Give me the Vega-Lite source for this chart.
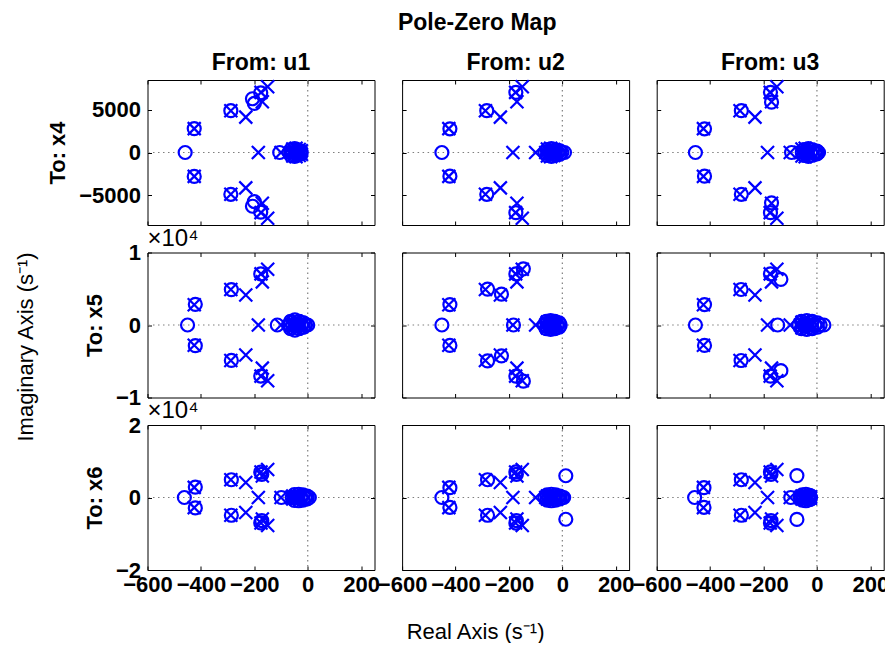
{
  "$schema": "https://vega.github.io/schema/vega-lite/v6.json",
  "background": "white",
  "padding": {"left": 14.5, "top": 12, "right": 0, "bottom": 0},
  "title": {"text": "Pole-Zero Map", "fontSize": 23, "fontWeight": "bold", "anchor": "middle", "offset": 16, "dx": 25},
  "datasets": {
    "poles": [
      {"re": -425, "im": 2800}, {"re": -425, "im": -2800},
      {"re": -288, "im": 4900}, {"re": -288, "im": -4900},
      {"re": -232, "im": 4150}, {"re": -232, "im": -4150},
      {"re": -185, "im": 0},
      {"re": -175, "im": 7050}, {"re": -175, "im": -7050},
      {"re": -170, "im": 5950}, {"re": -170, "im": -5950},
      {"re": -150, "im": 7700}, {"re": -150, "im": -7700},
      {"re": -100, "im": 0},
      {"re": -62, "im": 0},
      {"re": -56, "im": 400}, {"re": -56, "im": -400},
      {"re": -50, "im": 0},
      {"re": -44, "im": 500}, {"re": -44, "im": -500},
      {"re": -38, "im": 0},
      {"re": -32, "im": 350}, {"re": -32, "im": -350},
      {"re": -27, "im": 0},
      {"re": -24, "im": 200}, {"re": -24, "im": -200}
    ],
    "zeros": [
      {"to": "x4", "from": "u1", "re": -459, "im": 0},
      {"to": "x4", "from": "u1", "re": -425, "im": 2800}, {"to": "x4", "from": "u1", "re": -425, "im": -2800},
      {"to": "x4", "from": "u1", "re": -288, "im": 4900}, {"to": "x4", "from": "u1", "re": -288, "im": -4900},
      {"to": "x4", "from": "u1", "re": -207, "im": 6300}, {"to": "x4", "from": "u1", "re": -207, "im": -6300},
      {"to": "x4", "from": "u1", "re": -200, "im": 5750}, {"to": "x4", "from": "u1", "re": -200, "im": -5750},
      {"to": "x4", "from": "u1", "re": -176, "im": 7000}, {"to": "x4", "from": "u1", "re": -176, "im": -7000},
      {"to": "x4", "from": "u1", "re": -105, "im": 0},
      {"to": "x4", "from": "u1", "re": -70, "im": 0},
      {"to": "x4", "from": "u1", "re": -63, "im": 350}, {"to": "x4", "from": "u1", "re": -63, "im": -350},
      {"to": "x4", "from": "u1", "re": -56, "im": 0},
      {"to": "x4", "from": "u1", "re": -49, "im": 450}, {"to": "x4", "from": "u1", "re": -49, "im": -450},
      {"to": "x4", "from": "u1", "re": -42, "im": 0},
      {"to": "x4", "from": "u1", "re": -36, "im": 300}, {"to": "x4", "from": "u1", "re": -36, "im": -300},
      {"to": "x4", "from": "u1", "re": -30, "im": 0},
      {"to": "x4", "from": "u1", "re": -25, "im": 150}, {"to": "x4", "from": "u1", "re": -25, "im": -150},

      {"to": "x4", "from": "u2", "re": -451, "im": 0},
      {"to": "x4", "from": "u2", "re": -421, "im": 2780}, {"to": "x4", "from": "u2", "re": -421, "im": -2780},
      {"to": "x4", "from": "u2", "re": -283, "im": 4900}, {"to": "x4", "from": "u2", "re": -283, "im": -4900},
      {"to": "x4", "from": "u2", "re": -174, "im": 7050}, {"to": "x4", "from": "u2", "re": -174, "im": -7050},
      {"to": "x4", "from": "u2", "re": -65, "im": 0},
      {"to": "x4", "from": "u2", "re": -57, "im": 350}, {"to": "x4", "from": "u2", "re": -57, "im": -350},
      {"to": "x4", "from": "u2", "re": -49, "im": 0},
      {"to": "x4", "from": "u2", "re": -41, "im": 450}, {"to": "x4", "from": "u2", "re": -41, "im": -450},
      {"to": "x4", "from": "u2", "re": -33, "im": 0},
      {"to": "x4", "from": "u2", "re": -25, "im": 300}, {"to": "x4", "from": "u2", "re": -25, "im": -300},
      {"to": "x4", "from": "u2", "re": -17, "im": 0},
      {"to": "x4", "from": "u2", "re": -9, "im": 200}, {"to": "x4", "from": "u2", "re": -9, "im": -200},
      {"to": "x4", "from": "u2", "re": -2, "im": 0},
      {"to": "x4", "from": "u2", "re": 8, "im": 0},

      {"to": "x4", "from": "u3", "re": -455, "im": 0},
      {"to": "x4", "from": "u3", "re": -421, "im": 2780}, {"to": "x4", "from": "u3", "re": -421, "im": -2780},
      {"to": "x4", "from": "u3", "re": -283, "im": 4900}, {"to": "x4", "from": "u3", "re": -283, "im": -4900},
      {"to": "x4", "from": "u3", "re": -174, "im": 7050}, {"to": "x4", "from": "u3", "re": -174, "im": -7050},
      {"to": "x4", "from": "u3", "re": -170, "im": 5900}, {"to": "x4", "from": "u3", "re": -170, "im": -5900},
      {"to": "x4", "from": "u3", "re": -95, "im": 0},
      {"to": "x4", "from": "u3", "re": -55, "im": 0},
      {"to": "x4", "from": "u3", "re": -48, "im": 350}, {"to": "x4", "from": "u3", "re": -48, "im": -350},
      {"to": "x4", "from": "u3", "re": -40, "im": 0},
      {"to": "x4", "from": "u3", "re": -32, "im": 450}, {"to": "x4", "from": "u3", "re": -32, "im": -450},
      {"to": "x4", "from": "u3", "re": -24, "im": 0},
      {"to": "x4", "from": "u3", "re": -16, "im": 300}, {"to": "x4", "from": "u3", "re": -16, "im": -300},
      {"to": "x4", "from": "u3", "re": -8, "im": 0},
      {"to": "x4", "from": "u3", "re": 0, "im": 150}, {"to": "x4", "from": "u3", "re": 0, "im": -150},
      {"to": "x4", "from": "u3", "re": 6, "im": 0},

      {"to": "x5", "from": "u1", "re": -450, "im": 0},
      {"to": "x5", "from": "u1", "re": -421, "im": 2850}, {"to": "x5", "from": "u1", "re": -421, "im": -2850},
      {"to": "x5", "from": "u1", "re": -286, "im": 4880}, {"to": "x5", "from": "u1", "re": -286, "im": -4880},
      {"to": "x5", "from": "u1", "re": -176, "im": 7040}, {"to": "x5", "from": "u1", "re": -176, "im": -7040},
      {"to": "x5", "from": "u1", "re": -114, "im": 0},
      {"to": "x5", "from": "u1", "re": -72, "im": 0},
      {"to": "x5", "from": "u1", "re": -64, "im": 500}, {"to": "x5", "from": "u1", "re": -64, "im": -500},
      {"to": "x5", "from": "u1", "re": -56, "im": 0},
      {"to": "x5", "from": "u1", "re": -48, "im": 700}, {"to": "x5", "from": "u1", "re": -48, "im": -700},
      {"to": "x5", "from": "u1", "re": -40, "im": 0},
      {"to": "x5", "from": "u1", "re": -32, "im": 500}, {"to": "x5", "from": "u1", "re": -32, "im": -500},
      {"to": "x5", "from": "u1", "re": -24, "im": 0},
      {"to": "x5", "from": "u1", "re": -16, "im": 300}, {"to": "x5", "from": "u1", "re": -16, "im": -300},
      {"to": "x5", "from": "u1", "re": -8, "im": 0},
      {"to": "x5", "from": "u1", "re": 0, "im": 0},

      {"to": "x5", "from": "u2", "re": -451, "im": 0},
      {"to": "x5", "from": "u2", "re": -421, "im": 2820}, {"to": "x5", "from": "u2", "re": -421, "im": -2820},
      {"to": "x5", "from": "u2", "re": -280, "im": 4950}, {"to": "x5", "from": "u2", "re": -280, "im": -4950},
      {"to": "x5", "from": "u2", "re": -228, "im": 4250}, {"to": "x5", "from": "u2", "re": -228, "im": -4250},
      {"to": "x5", "from": "u2", "re": -183, "im": 0},
      {"to": "x5", "from": "u2", "re": -174, "im": 7050}, {"to": "x5", "from": "u2", "re": -174, "im": -7050},
      {"to": "x5", "from": "u2", "re": -146, "im": 7750}, {"to": "x5", "from": "u2", "re": -146, "im": -7750},
      {"to": "x5", "from": "u2", "re": -68, "im": 0},
      {"to": "x5", "from": "u2", "re": -60, "im": 500}, {"to": "x5", "from": "u2", "re": -60, "im": -500},
      {"to": "x5", "from": "u2", "re": -52, "im": 0},
      {"to": "x5", "from": "u2", "re": -44, "im": 600}, {"to": "x5", "from": "u2", "re": -44, "im": -600},
      {"to": "x5", "from": "u2", "re": -36, "im": 0},
      {"to": "x5", "from": "u2", "re": -28, "im": 500}, {"to": "x5", "from": "u2", "re": -28, "im": -500},
      {"to": "x5", "from": "u2", "re": -20, "im": 0},
      {"to": "x5", "from": "u2", "re": -12, "im": 300}, {"to": "x5", "from": "u2", "re": -12, "im": -300},
      {"to": "x5", "from": "u2", "re": -8, "im": 0},

      {"to": "x5", "from": "u3", "re": -455, "im": 0},
      {"to": "x5", "from": "u3", "re": -421, "im": 2820}, {"to": "x5", "from": "u3", "re": -421, "im": -2820},
      {"to": "x5", "from": "u3", "re": -284, "im": 4900}, {"to": "x5", "from": "u3", "re": -284, "im": -4900},
      {"to": "x5", "from": "u3", "re": -174, "im": 7050}, {"to": "x5", "from": "u3", "re": -174, "im": -7050},
      {"to": "x5", "from": "u3", "re": -147, "im": 0},
      {"to": "x5", "from": "u3", "re": -135, "im": 6300}, {"to": "x5", "from": "u3", "re": -135, "im": -6300},
      {"to": "x5", "from": "u3", "re": -68, "im": 0},
      {"to": "x5", "from": "u3", "re": -58, "im": 500}, {"to": "x5", "from": "u3", "re": -58, "im": -500},
      {"to": "x5", "from": "u3", "re": -48, "im": 0},
      {"to": "x5", "from": "u3", "re": -38, "im": 600}, {"to": "x5", "from": "u3", "re": -38, "im": -600},
      {"to": "x5", "from": "u3", "re": -28, "im": 0},
      {"to": "x5", "from": "u3", "re": -18, "im": 500}, {"to": "x5", "from": "u3", "re": -18, "im": -500},
      {"to": "x5", "from": "u3", "re": -8, "im": 0},
      {"to": "x5", "from": "u3", "re": 2, "im": 300}, {"to": "x5", "from": "u3", "re": 2, "im": -300},
      {"to": "x5", "from": "u3", "re": 12, "im": 0},
      {"to": "x5", "from": "u3", "re": 26, "im": 0},

      {"to": "x6", "from": "u1", "re": -462, "im": 0},
      {"to": "x6", "from": "u1", "re": -421, "im": 2880}, {"to": "x6", "from": "u1", "re": -421, "im": -2880},
      {"to": "x6", "from": "u1", "re": -286, "im": 4900}, {"to": "x6", "from": "u1", "re": -286, "im": -4900},
      {"to": "x6", "from": "u1", "re": -176, "im": 7000}, {"to": "x6", "from": "u1", "re": -176, "im": -7000},
      {"to": "x6", "from": "u1", "re": -172, "im": 6400}, {"to": "x6", "from": "u1", "re": -172, "im": -6400},
      {"to": "x6", "from": "u1", "re": -99, "im": 0},
      {"to": "x6", "from": "u1", "re": -58, "im": 0},
      {"to": "x6", "from": "u1", "re": -50, "im": 800}, {"to": "x6", "from": "u1", "re": -50, "im": -800},
      {"to": "x6", "from": "u1", "re": -42, "im": 0},
      {"to": "x6", "from": "u1", "re": -34, "im": 900}, {"to": "x6", "from": "u1", "re": -34, "im": -900},
      {"to": "x6", "from": "u1", "re": -26, "im": 0},
      {"to": "x6", "from": "u1", "re": -18, "im": 700}, {"to": "x6", "from": "u1", "re": -18, "im": -700},
      {"to": "x6", "from": "u1", "re": -10, "im": 0},
      {"to": "x6", "from": "u1", "re": -2, "im": 400}, {"to": "x6", "from": "u1", "re": -2, "im": -400},
      {"to": "x6", "from": "u1", "re": 6, "im": 0},

      {"to": "x6", "from": "u2", "re": -451, "im": 0},
      {"to": "x6", "from": "u2", "re": -421, "im": 2700}, {"to": "x6", "from": "u2", "re": -421, "im": -2700},
      {"to": "x6", "from": "u2", "re": -280, "im": 4900}, {"to": "x6", "from": "u2", "re": -280, "im": -4900},
      {"to": "x6", "from": "u2", "re": -174, "im": 7050}, {"to": "x6", "from": "u2", "re": -174, "im": -7050},
      {"to": "x6", "from": "u2", "re": -172, "im": 6400}, {"to": "x6", "from": "u2", "re": -172, "im": -6400},
      {"to": "x6", "from": "u2", "re": 13, "im": 6000}, {"to": "x6", "from": "u2", "re": 13, "im": -6000},
      {"to": "x6", "from": "u2", "re": -65, "im": 0},
      {"to": "x6", "from": "u2", "re": -57, "im": 700}, {"to": "x6", "from": "u2", "re": -57, "im": -700},
      {"to": "x6", "from": "u2", "re": -49, "im": 0},
      {"to": "x6", "from": "u2", "re": -41, "im": 900}, {"to": "x6", "from": "u2", "re": -41, "im": -900},
      {"to": "x6", "from": "u2", "re": -33, "im": 0},
      {"to": "x6", "from": "u2", "re": -25, "im": 700}, {"to": "x6", "from": "u2", "re": -25, "im": -700},
      {"to": "x6", "from": "u2", "re": -17, "im": 0},
      {"to": "x6", "from": "u2", "re": -9, "im": 400}, {"to": "x6", "from": "u2", "re": -9, "im": -400},
      {"to": "x6", "from": "u2", "re": -1, "im": 0},
      {"to": "x6", "from": "u2", "re": 5, "im": 0},

      {"to": "x6", "from": "u3", "re": -458, "im": 0},
      {"to": "x6", "from": "u3", "re": -423, "im": 2700}, {"to": "x6", "from": "u3", "re": -423, "im": -2700},
      {"to": "x6", "from": "u3", "re": -283, "im": 4900}, {"to": "x6", "from": "u3", "re": -283, "im": -4900},
      {"to": "x6", "from": "u3", "re": -174, "im": 7050}, {"to": "x6", "from": "u3", "re": -174, "im": -7050},
      {"to": "x6", "from": "u3", "re": -172, "im": 6400}, {"to": "x6", "from": "u3", "re": -172, "im": -6400},
      {"to": "x6", "from": "u3", "re": -75, "im": 6050}, {"to": "x6", "from": "u3", "re": -75, "im": -6050},
      {"to": "x6", "from": "u3", "re": -98, "im": 0},
      {"to": "x6", "from": "u3", "re": -62, "im": 0},
      {"to": "x6", "from": "u3", "re": -55, "im": 700}, {"to": "x6", "from": "u3", "re": -55, "im": -700},
      {"to": "x6", "from": "u3", "re": -48, "im": 0},
      {"to": "x6", "from": "u3", "re": -41, "im": 900}, {"to": "x6", "from": "u3", "re": -41, "im": -900},
      {"to": "x6", "from": "u3", "re": -34, "im": 0},
      {"to": "x6", "from": "u3", "re": -27, "im": 600}, {"to": "x6", "from": "u3", "re": -27, "im": -600},
      {"to": "x6", "from": "u3", "re": -24, "im": 0}
    ]
  },
  "vconcat": [
    {
      "title": {"text": "Imaginary Axis (s⁻¹)", "orient": "left", "anchor": "middle", "fontWeight": "normal", "fontSize": 22, "offset": 8},
      "columns": 3,
      "bounds": "flush",
      "spacing": {"row": 27.5, "column": 27.6},
      "concat": [
        {
          "width": 227, "height": 145,
          "title": {"text": "From: u1", "frame": "group"},
          "layer": [
            {"data": {"values": [{}]}, "mark": {"type": "rule", "stroke": "#7f7f7f", "strokeWidth": 1.2, "strokeDash": [1.5, 3.5]}, "encoding": {"x": {"datum": 0, "type": "quantitative", "axis": null}}},
            {"data": {"values": [{}]}, "mark": {"type": "rule", "stroke": "#7f7f7f", "strokeWidth": 1.2, "strokeDash": [1.5, 3.5]}, "encoding": {"y": {"datum": 0, "type": "quantitative", "axis": null}}},
            {"data": {"name": "poles"}, "mark": {"type": "point", "shape": "M-1,-1L1,1M-1,1L1,-1", "filled": false, "stroke": "#0000ff", "strokeWidth": 2.2, "size": 169, "opacity": 1},
             "encoding": {
               "x": {"field": "re", "type": "quantitative", "scale": {"domain": [-600, 250], "nice": false, "zero": false}, "axis": {"orient": "bottom", "values": [-600, -400, -200, 0, 200], "labels": false, "title": null, "tickSize": -4}},
               "y": {"field": "im", "type": "quantitative", "scale": {"domain": [-8500, 8500], "nice": false, "zero": false}, "axis": {"orient": "left", "values": [-5000, 0, 5000], "format": "d", "title": "To: x4", "tickSize": -4}}}},
            {"data": {"name": "zeros"}, "transform": [{"filter": "datum.to === 'x4' && datum.from === 'u1'"}], "mark": {"type": "point", "shape": "circle", "filled": false, "stroke": "#0000ff", "strokeWidth": 2.2, "size": 169, "opacity": 1},
             "encoding": {
               "x": {"field": "re", "type": "quantitative", "scale": {"domain": [-600, 250], "nice": false, "zero": false}, "axis": {"orient": "top", "values": [-600, -400, -200, 0, 200], "labels": false, "title": null, "tickSize": -4}},
               "y": {"field": "im", "type": "quantitative", "scale": {"domain": [-8500, 8500], "nice": false, "zero": false}, "axis": {"orient": "right", "values": [-5000, 0, 5000], "labels": false, "title": null, "tickSize": -4}}}}
          ],
          "resolve": {"axis": {"x": "independent", "y": "independent"}}
        },
        {
          "width": 227, "height": 145,
          "title": {"text": "From: u2", "frame": "group"},
          "layer": [
            {"data": {"values": [{}]}, "mark": {"type": "rule", "stroke": "#7f7f7f", "strokeWidth": 1.2, "strokeDash": [1.5, 3.5]}, "encoding": {"x": {"datum": 0, "type": "quantitative", "axis": null}}},
            {"data": {"values": [{}]}, "mark": {"type": "rule", "stroke": "#7f7f7f", "strokeWidth": 1.2, "strokeDash": [1.5, 3.5]}, "encoding": {"y": {"datum": 0, "type": "quantitative", "axis": null}}},
            {"data": {"name": "poles"}, "mark": {"type": "point", "shape": "M-1,-1L1,1M-1,1L1,-1", "filled": false, "stroke": "#0000ff", "strokeWidth": 2.2, "size": 169, "opacity": 1},
             "encoding": {
               "x": {"field": "re", "type": "quantitative", "scale": {"domain": [-600, 250], "nice": false, "zero": false}, "axis": {"orient": "bottom", "values": [-600, -400, -200, 0, 200], "labels": false, "title": null, "tickSize": -4}},
               "y": {"field": "im", "type": "quantitative", "scale": {"domain": [-8500, 8500], "nice": false, "zero": false}, "axis": {"orient": "left", "values": [-5000, 0, 5000], "labels": false, "title": null, "tickSize": -4}}}},
            {"data": {"name": "zeros"}, "transform": [{"filter": "datum.to === 'x4' && datum.from === 'u2'"}], "mark": {"type": "point", "shape": "circle", "filled": false, "stroke": "#0000ff", "strokeWidth": 2.2, "size": 169, "opacity": 1},
             "encoding": {
               "x": {"field": "re", "type": "quantitative", "scale": {"domain": [-600, 250], "nice": false, "zero": false}, "axis": {"orient": "top", "values": [-600, -400, -200, 0, 200], "labels": false, "title": null, "tickSize": -4}},
               "y": {"field": "im", "type": "quantitative", "scale": {"domain": [-8500, 8500], "nice": false, "zero": false}, "axis": {"orient": "right", "values": [-5000, 0, 5000], "labels": false, "title": null, "tickSize": -4}}}}
          ],
          "resolve": {"axis": {"x": "independent", "y": "independent"}}
        },
        {
          "width": 227, "height": 145,
          "title": {"text": "From: u3", "frame": "group"},
          "layer": [
            {"data": {"values": [{}]}, "mark": {"type": "rule", "stroke": "#7f7f7f", "strokeWidth": 1.2, "strokeDash": [1.5, 3.5]}, "encoding": {"x": {"datum": 0, "type": "quantitative", "axis": null}}},
            {"data": {"values": [{}]}, "mark": {"type": "rule", "stroke": "#7f7f7f", "strokeWidth": 1.2, "strokeDash": [1.5, 3.5]}, "encoding": {"y": {"datum": 0, "type": "quantitative", "axis": null}}},
            {"data": {"name": "poles"}, "mark": {"type": "point", "shape": "M-1,-1L1,1M-1,1L1,-1", "filled": false, "stroke": "#0000ff", "strokeWidth": 2.2, "size": 169, "opacity": 1},
             "encoding": {
               "x": {"field": "re", "type": "quantitative", "scale": {"domain": [-600, 250], "nice": false, "zero": false}, "axis": {"orient": "bottom", "values": [-600, -400, -200, 0, 200], "labels": false, "title": null, "tickSize": -4}},
               "y": {"field": "im", "type": "quantitative", "scale": {"domain": [-8500, 8500], "nice": false, "zero": false}, "axis": {"orient": "left", "values": [-5000, 0, 5000], "labels": false, "title": null, "tickSize": -4}}}},
            {"data": {"name": "zeros"}, "transform": [{"filter": "datum.to === 'x4' && datum.from === 'u3'"}], "mark": {"type": "point", "shape": "circle", "filled": false, "stroke": "#0000ff", "strokeWidth": 2.2, "size": 169, "opacity": 1},
             "encoding": {
               "x": {"field": "re", "type": "quantitative", "scale": {"domain": [-600, 250], "nice": false, "zero": false}, "axis": {"orient": "top", "values": [-600, -400, -200, 0, 200], "labels": false, "title": null, "tickSize": -4}},
               "y": {"field": "im", "type": "quantitative", "scale": {"domain": [-8500, 8500], "nice": false, "zero": false}, "axis": {"orient": "right", "values": [-5000, 0, 5000], "labels": false, "title": null, "tickSize": -4}}}}
          ],
          "resolve": {"axis": {"x": "independent", "y": "independent"}}
        },
        {
          "width": 227, "height": 145,
          "title": {"text": "×10⁴", "frame": "group", "anchor": "start", "fontWeight": "normal", "fontSize": 24, "offset": -9},
          "layer": [
            {"data": {"values": [{}]}, "mark": {"type": "rule", "stroke": "#7f7f7f", "strokeWidth": 1.2, "strokeDash": [1.5, 3.5]}, "encoding": {"x": {"datum": 0, "type": "quantitative", "axis": null}}},
            {"data": {"values": [{}]}, "mark": {"type": "rule", "stroke": "#7f7f7f", "strokeWidth": 1.2, "strokeDash": [1.5, 3.5]}, "encoding": {"y": {"datum": 0, "type": "quantitative", "axis": null}}},
            {"data": {"name": "poles"}, "mark": {"type": "point", "shape": "M-1,-1L1,1M-1,1L1,-1", "filled": false, "stroke": "#0000ff", "strokeWidth": 2.2, "size": 169, "opacity": 1},
             "encoding": {
               "x": {"field": "re", "type": "quantitative", "scale": {"domain": [-600, 250], "nice": false, "zero": false}, "axis": {"orient": "bottom", "values": [-600, -400, -200, 0, 200], "labels": false, "title": null, "tickSize": -4}},
               "y": {"field": "im", "type": "quantitative", "scale": {"domain": [-10000, 10000], "nice": false, "zero": false}, "axis": {"orient": "left", "values": [-10000, 0, 10000], "labelExpr": "format(datum.value / 10000, 'd')", "title": "To: x5", "tickSize": -4}}}},
            {"data": {"name": "zeros"}, "transform": [{"filter": "datum.to === 'x5' && datum.from === 'u1'"}], "mark": {"type": "point", "shape": "circle", "filled": false, "stroke": "#0000ff", "strokeWidth": 2.2, "size": 169, "opacity": 1},
             "encoding": {
               "x": {"field": "re", "type": "quantitative", "scale": {"domain": [-600, 250], "nice": false, "zero": false}, "axis": {"orient": "top", "values": [-600, -400, -200, 0, 200], "labels": false, "title": null, "tickSize": -4}},
               "y": {"field": "im", "type": "quantitative", "scale": {"domain": [-10000, 10000], "nice": false, "zero": false}, "axis": {"orient": "right", "values": [-10000, 0, 10000], "labels": false, "title": null, "tickSize": -4}}}}
          ],
          "resolve": {"axis": {"x": "independent", "y": "independent"}}
        },
        {
          "width": 227, "height": 145,
          "layer": [
            {"data": {"values": [{}]}, "mark": {"type": "rule", "stroke": "#7f7f7f", "strokeWidth": 1.2, "strokeDash": [1.5, 3.5]}, "encoding": {"x": {"datum": 0, "type": "quantitative", "axis": null}}},
            {"data": {"values": [{}]}, "mark": {"type": "rule", "stroke": "#7f7f7f", "strokeWidth": 1.2, "strokeDash": [1.5, 3.5]}, "encoding": {"y": {"datum": 0, "type": "quantitative", "axis": null}}},
            {"data": {"name": "poles"}, "mark": {"type": "point", "shape": "M-1,-1L1,1M-1,1L1,-1", "filled": false, "stroke": "#0000ff", "strokeWidth": 2.2, "size": 169, "opacity": 1},
             "encoding": {
               "x": {"field": "re", "type": "quantitative", "scale": {"domain": [-600, 250], "nice": false, "zero": false}, "axis": {"orient": "bottom", "values": [-600, -400, -200, 0, 200], "labels": false, "title": null, "tickSize": -4}},
               "y": {"field": "im", "type": "quantitative", "scale": {"domain": [-10000, 10000], "nice": false, "zero": false}, "axis": {"orient": "left", "values": [-10000, 0, 10000], "labels": false, "title": null, "tickSize": -4}}}},
            {"data": {"name": "zeros"}, "transform": [{"filter": "datum.to === 'x5' && datum.from === 'u2'"}], "mark": {"type": "point", "shape": "circle", "filled": false, "stroke": "#0000ff", "strokeWidth": 2.2, "size": 169, "opacity": 1},
             "encoding": {
               "x": {"field": "re", "type": "quantitative", "scale": {"domain": [-600, 250], "nice": false, "zero": false}, "axis": {"orient": "top", "values": [-600, -400, -200, 0, 200], "labels": false, "title": null, "tickSize": -4}},
               "y": {"field": "im", "type": "quantitative", "scale": {"domain": [-10000, 10000], "nice": false, "zero": false}, "axis": {"orient": "right", "values": [-10000, 0, 10000], "labels": false, "title": null, "tickSize": -4}}}}
          ],
          "resolve": {"axis": {"x": "independent", "y": "independent"}}
        },
        {
          "width": 227, "height": 145,
          "layer": [
            {"data": {"values": [{}]}, "mark": {"type": "rule", "stroke": "#7f7f7f", "strokeWidth": 1.2, "strokeDash": [1.5, 3.5]}, "encoding": {"x": {"datum": 0, "type": "quantitative", "axis": null}}},
            {"data": {"values": [{}]}, "mark": {"type": "rule", "stroke": "#7f7f7f", "strokeWidth": 1.2, "strokeDash": [1.5, 3.5]}, "encoding": {"y": {"datum": 0, "type": "quantitative", "axis": null}}},
            {"data": {"name": "poles"}, "mark": {"type": "point", "shape": "M-1,-1L1,1M-1,1L1,-1", "filled": false, "stroke": "#0000ff", "strokeWidth": 2.2, "size": 169, "opacity": 1},
             "encoding": {
               "x": {"field": "re", "type": "quantitative", "scale": {"domain": [-600, 250], "nice": false, "zero": false}, "axis": {"orient": "bottom", "values": [-600, -400, -200, 0, 200], "labels": false, "title": null, "tickSize": -4}},
               "y": {"field": "im", "type": "quantitative", "scale": {"domain": [-10000, 10000], "nice": false, "zero": false}, "axis": {"orient": "left", "values": [-10000, 0, 10000], "labels": false, "title": null, "tickSize": -4}}}},
            {"data": {"name": "zeros"}, "transform": [{"filter": "datum.to === 'x5' && datum.from === 'u3'"}], "mark": {"type": "point", "shape": "circle", "filled": false, "stroke": "#0000ff", "strokeWidth": 2.2, "size": 169, "opacity": 1},
             "encoding": {
               "x": {"field": "re", "type": "quantitative", "scale": {"domain": [-600, 250], "nice": false, "zero": false}, "axis": {"orient": "top", "values": [-600, -400, -200, 0, 200], "labels": false, "title": null, "tickSize": -4}},
               "y": {"field": "im", "type": "quantitative", "scale": {"domain": [-10000, 10000], "nice": false, "zero": false}, "axis": {"orient": "right", "values": [-10000, 0, 10000], "labels": false, "title": null, "tickSize": -4}}}}
          ],
          "resolve": {"axis": {"x": "independent", "y": "independent"}}
        },
        {
          "width": 227, "height": 145,
          "title": {"text": "×10⁴", "frame": "group", "anchor": "start", "fontWeight": "normal", "fontSize": 24, "offset": -9},
          "layer": [
            {"data": {"values": [{}]}, "mark": {"type": "rule", "stroke": "#7f7f7f", "strokeWidth": 1.2, "strokeDash": [1.5, 3.5]}, "encoding": {"x": {"datum": 0, "type": "quantitative", "axis": null}}},
            {"data": {"values": [{}]}, "mark": {"type": "rule", "stroke": "#7f7f7f", "strokeWidth": 1.2, "strokeDash": [1.5, 3.5]}, "encoding": {"y": {"datum": 0, "type": "quantitative", "axis": null}}},
            {"data": {"name": "poles"}, "mark": {"type": "point", "shape": "M-1,-1L1,1M-1,1L1,-1", "filled": false, "stroke": "#0000ff", "strokeWidth": 2.2, "size": 169, "opacity": 1},
             "encoding": {
               "x": {"field": "re", "type": "quantitative", "scale": {"domain": [-600, 250], "nice": false, "zero": false}, "axis": {"orient": "bottom", "values": [-600, -400, -200, 0, 200], "format": "d", "title": null, "tickSize": -4}},
               "y": {"field": "im", "type": "quantitative", "scale": {"domain": [-20000, 20000], "nice": false, "zero": false}, "axis": {"orient": "left", "values": [-20000, 0, 20000], "labelExpr": "format(datum.value / 10000, 'd')", "title": "To: x6", "tickSize": -4}}}},
            {"data": {"name": "zeros"}, "transform": [{"filter": "datum.to === 'x6' && datum.from === 'u1'"}], "mark": {"type": "point", "shape": "circle", "filled": false, "stroke": "#0000ff", "strokeWidth": 2.2, "size": 169, "opacity": 1},
             "encoding": {
               "x": {"field": "re", "type": "quantitative", "scale": {"domain": [-600, 250], "nice": false, "zero": false}, "axis": {"orient": "top", "values": [-600, -400, -200, 0, 200], "labels": false, "title": null, "tickSize": -4}},
               "y": {"field": "im", "type": "quantitative", "scale": {"domain": [-20000, 20000], "nice": false, "zero": false}, "axis": {"orient": "right", "values": [-20000, 0, 20000], "labels": false, "title": null, "tickSize": -4}}}}
          ],
          "resolve": {"axis": {"x": "independent", "y": "independent"}}
        },
        {
          "width": 227, "height": 145,
          "layer": [
            {"data": {"values": [{}]}, "mark": {"type": "rule", "stroke": "#7f7f7f", "strokeWidth": 1.2, "strokeDash": [1.5, 3.5]}, "encoding": {"x": {"datum": 0, "type": "quantitative", "axis": null}}},
            {"data": {"values": [{}]}, "mark": {"type": "rule", "stroke": "#7f7f7f", "strokeWidth": 1.2, "strokeDash": [1.5, 3.5]}, "encoding": {"y": {"datum": 0, "type": "quantitative", "axis": null}}},
            {"data": {"name": "poles"}, "mark": {"type": "point", "shape": "M-1,-1L1,1M-1,1L1,-1", "filled": false, "stroke": "#0000ff", "strokeWidth": 2.2, "size": 169, "opacity": 1},
             "encoding": {
               "x": {"field": "re", "type": "quantitative", "scale": {"domain": [-600, 250], "nice": false, "zero": false}, "axis": {"orient": "bottom", "values": [-600, -400, -200, 0, 200], "format": "d", "title": "Real Axis (s⁻¹)", "titleFontWeight": "normal", "titleFontSize": 22, "titleX": 73, "titleY": 68, "titleBaseline": "alphabetic", "titleAlign": "center", "tickSize": -4}},
               "y": {"field": "im", "type": "quantitative", "scale": {"domain": [-20000, 20000], "nice": false, "zero": false}, "axis": {"orient": "left", "values": [-20000, 0, 20000], "labels": false, "title": null, "tickSize": -4}}}},
            {"data": {"name": "zeros"}, "transform": [{"filter": "datum.to === 'x6' && datum.from === 'u2'"}], "mark": {"type": "point", "shape": "circle", "filled": false, "stroke": "#0000ff", "strokeWidth": 2.2, "size": 169, "opacity": 1},
             "encoding": {
               "x": {"field": "re", "type": "quantitative", "scale": {"domain": [-600, 250], "nice": false, "zero": false}, "axis": {"orient": "top", "values": [-600, -400, -200, 0, 200], "labels": false, "title": null, "tickSize": -4}},
               "y": {"field": "im", "type": "quantitative", "scale": {"domain": [-20000, 20000], "nice": false, "zero": false}, "axis": {"orient": "right", "values": [-20000, 0, 20000], "labels": false, "title": null, "tickSize": -4}}}}
          ],
          "resolve": {"axis": {"x": "independent", "y": "independent"}}
        },
        {
          "width": 227, "height": 145,
          "layer": [
            {"data": {"values": [{}]}, "mark": {"type": "rule", "stroke": "#7f7f7f", "strokeWidth": 1.2, "strokeDash": [1.5, 3.5]}, "encoding": {"x": {"datum": 0, "type": "quantitative", "axis": null}}},
            {"data": {"values": [{}]}, "mark": {"type": "rule", "stroke": "#7f7f7f", "strokeWidth": 1.2, "strokeDash": [1.5, 3.5]}, "encoding": {"y": {"datum": 0, "type": "quantitative", "axis": null}}},
            {"data": {"name": "poles"}, "mark": {"type": "point", "shape": "M-1,-1L1,1M-1,1L1,-1", "filled": false, "stroke": "#0000ff", "strokeWidth": 2.2, "size": 169, "opacity": 1},
             "encoding": {
               "x": {"field": "re", "type": "quantitative", "scale": {"domain": [-600, 250], "nice": false, "zero": false}, "axis": {"orient": "bottom", "values": [-600, -400, -200, 0, 200], "format": "d", "title": null, "tickSize": -4}},
               "y": {"field": "im", "type": "quantitative", "scale": {"domain": [-20000, 20000], "nice": false, "zero": false}, "axis": {"orient": "left", "values": [-20000, 0, 20000], "labels": false, "title": null, "tickSize": -4}}}},
            {"data": {"name": "zeros"}, "transform": [{"filter": "datum.to === 'x6' && datum.from === 'u3'"}], "mark": {"type": "point", "shape": "circle", "filled": false, "stroke": "#0000ff", "strokeWidth": 2.2, "size": 169, "opacity": 1},
             "encoding": {
               "x": {"field": "re", "type": "quantitative", "scale": {"domain": [-600, 250], "nice": false, "zero": false}, "axis": {"orient": "top", "values": [-600, -400, -200, 0, 200], "labels": false, "title": null, "tickSize": -4}},
               "y": {"field": "im", "type": "quantitative", "scale": {"domain": [-20000, 20000], "nice": false, "zero": false}, "axis": {"orient": "right", "values": [-20000, 0, 20000], "labels": false, "title": null, "tickSize": -4}}}}
          ],
          "resolve": {"axis": {"x": "independent", "y": "independent"}}
        }
      ]
    }
  ],
  "config": {
    "font": "Liberation Sans",
    "view": {"stroke": "#000000", "strokeWidth": 1},
    "axis": {
      "labelFont": "Liberation Sans", "labelFontSize": 22, "labelFontWeight": "bold", "labelColor": "#000000",
      "labelFlush": false, "labelOverlap": false,
      "tickColor": "#000000", "tickWidth": 1, "grid": false, "domain": false,
      "titleFont": "Liberation Sans", "titleFontSize": 22, "titleFontWeight": "bold", "titleColor": "#000000", "titlePadding": 9
    },
    "axisX": {"labelPadding": 8},
    "axisY": {"labelPadding": 11},
    "title": {"font": "Liberation Sans", "fontSize": 23, "fontWeight": "bold", "color": "#000000", "offset": 1}
  }
}
